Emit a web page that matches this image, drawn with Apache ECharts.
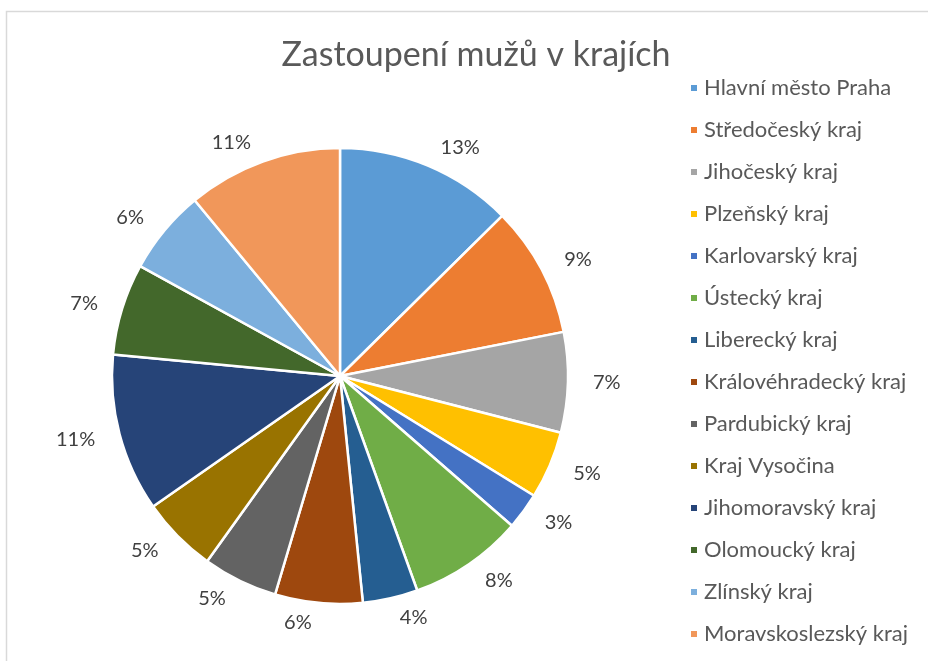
<!DOCTYPE html>
<html>
<head>
<meta charset="utf-8">
<script src="https://cdn.jsdelivr.net/npm/echarts@6/dist/echarts.min.js"></script>
<style>
  html, body { margin: 0; padding: 0; background: #fff; }
  #chart { width: 928px; height: 661px; }
</style>
</head>
<body>
<div id="chart"></div>
<script>
// kraje a jejich podil (odhad z obrazku, v %)
var kraje = ['Hlavní město Praha', 'Středočeský kraj', 'Jihočeský kraj', 'Plzeňský kraj',
  'Karlovarský kraj', 'Ústecký kraj', 'Liberecký kraj', 'Královéhradecký kraj',
  'Pardubický kraj', 'Kraj Vysočina', 'Jihomoravský kraj', 'Olomoucký kraj',
  'Zlínský kraj', 'Moravskoslezský kraj'];
var muzi = [12.6, 9.3, 7.1, 4.8, 2.6, 8.1, 3.9, 6.2, 5.3, 5.4, 11.2, 6.5, 6.0, 11.0];
var barvy = ['#5b9bd5', '#ed7d31', '#a5a5a5', '#ffc000', '#4472c4', '#70ad47', '#255e91',
  '#9e480e', '#636363', '#997300', '#264478', '#43682b', '#7cafdd', '#f1975a'];

var myChart = echarts.init(document.getElementById('chart'));

var data = [];
for (var i = 0; i < kraje.length; i++) {
  data.push({ name: kraje[i], value: muzi[i] });
}

var option = {
  animation: false,
  color: barvy,
  title: {
    text: 'Zastoupení mužů v krajích',
    left: 471,
    top: 33,
    textAlign: 'center',
    textStyle: {
      fontFamily: 'Lato',
      fontWeight: 'normal',
      fontSize: 34,
      color: '#595959'
    }
  },
  legend: {
    orient: 'vertical',
    left: 684,
    top: 72,
    icon: 'rect',
    itemWidth: 8,
    itemHeight: 8,
    itemGap: 20,
    textStyle: {
      fontFamily: 'Lato',
      fontSize: 22,
      lineHeight: 22,
      color: '#595959',
      padding: [0, 0, 0, 1]
    }
  },
  graphic: [{
    type: 'rect',
    shape: { x: 6.5, y: 11.5, width: 1000, height: 1000 },
    style: { fill: 'none', stroke: '#d9d9d9', lineWidth: 1.5 },
    silent: true
  }],
  series: [{
    type: 'pie',
    center: [340, 376],
    radius: 228,
    startAngle: 90,
    clockwise: true,
    percentPrecision: 0,
    avoidLabelOverlap: false,
    itemStyle: { borderColor: '#fff', borderWidth: 2.5 },
    label: {
      show: true,
      position: 'outside',
      formatter: '{d}%',
      fontFamily: 'Lato',
      fontSize: 20,
      color: '#404040'
    },
    labelLine: { show: false, length: 20, length2: 0 },
    emphasis: { disabled: true },
    data: data
  }]
};
myChart.setOption(option);
</script>
</body>
</html>
